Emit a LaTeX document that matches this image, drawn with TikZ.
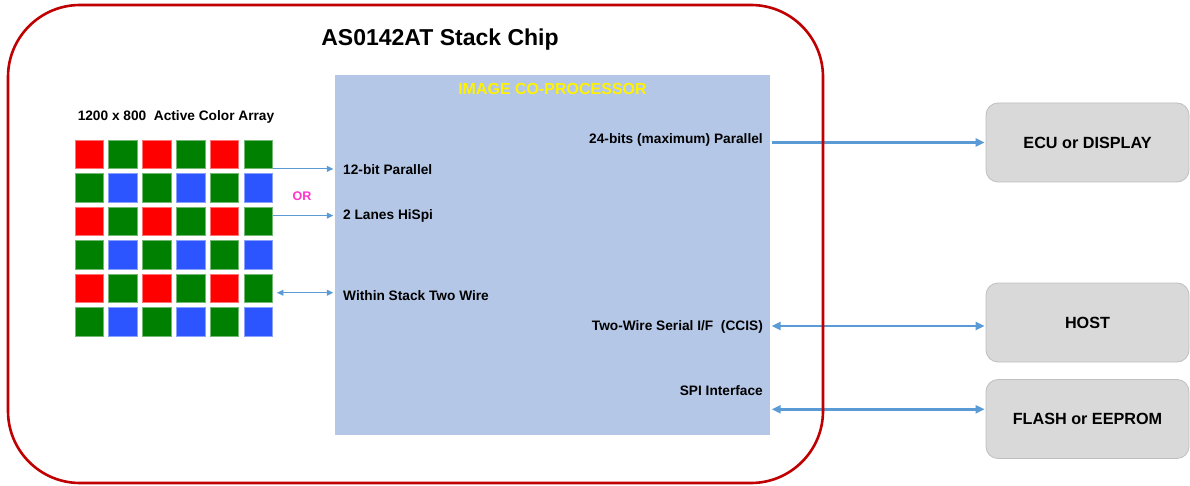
\documentclass[tikz,border=0pt]{standalone}
\usepackage{fontspec}
\setmainfont{Liberation Sans}
\usetikzlibrary{arrows.meta}
\definecolor{chipred}{RGB}{192,0,0}
\definecolor{icpblue}{RGB}{180,199,231}
\definecolor{arrblue}{RGB}{91,155,213}
\definecolor{pxred}{RGB}{255,0,0}
\definecolor{pxgreen}{RGB}{0,128,0}
\definecolor{pxblue}{RGB}{45,85,255}
\definecolor{boxgray}{RGB}{217,217,217}
\definecolor{boxedge}{RGB}{191,191,191}
\definecolor{ormag}{RGB}{255,51,204}
\tikzset{
  sq/.style={minimum size=28.5pt, inner sep=0pt, line width=0.8pt},
  rsq/.style={sq, fill=pxred, draw=pxred!55!white},
  gsq/.style={sq, fill=pxgreen, draw=pxgreen!55!white},
  bsq/.style={sq, fill=pxblue, draw=pxblue!55!white},
  lbl/.style={font=\bfseries\fontsize{13.7}{16}\selectfont, inner sep=0pt},
  ext/.style={draw=boxedge, fill=boxgray, line width=0.8pt, rounded corners=12pt,
    minimum width=203pt, minimum height=79pt, font=\bfseries\fontsize{16.2}{19}\selectfont},
  ltip/.style={Triangle[length=6.5pt,width=6pt]},
  rtip/.style={Triangle[length=9pt,width=8pt]},
  larr/.style={draw=arrblue, line width=1.2pt, -{Triangle[length=6.5pt,width=6pt]}},
  ldarr/.style={draw=arrblue, line width=1.2pt, {Triangle[length=6.5pt,width=6pt]}-{Triangle[length=6.5pt,width=6pt]}},
  rarr/.style={draw=arrblue, line width=2.4pt, -{Triangle[length=9pt,width=8pt]}},
  rdarr/.style={draw=arrblue, line width=2.4pt, {Triangle[length=9pt,width=8pt]}-{Triangle[length=9pt,width=8pt]}}
}
\begin{document}
\begin{tikzpicture}[x=1pt,y=-1pt]
\useasboundingbox (0,0) rectangle (1190,486);
% co-processor
\node[fill=icpblue, minimum width=435pt, minimum height=360pt, inner sep=0pt] (icp) at (552.5,255) {};
\node[font=\bfseries\fontsize{16}{19}\selectfont, text=yellow, inner sep=0pt] (icpt) at (552.5,89) {IMAGE CO-PROCESSOR};
% array label
\node[lbl] (alab) at (176,117) {1200 x 800\ \ Active Color Array};
% pixel grid
\foreach \r in {1,...,6}{
  \foreach \c in {1,...,6}{
    \pgfmathtruncatemacro{\ro}{mod(\r,2)}
    \pgfmathtruncatemacro{\co}{mod(\c,2)}
    \ifnum\ro=1
      \ifnum\co=1 \def\st{rsq}\else \def\st{gsq}\fi
    \else
      \ifnum\co=1 \def\st{gsq}\else \def\st{bsq}\fi
    \fi
    \node[\st] (s-\r-\c) at ({89.25+33.8*(\c-1)},{154.25+33.5*(\r-1)}) {};
  }
}
% left labels
\node[lbl, anchor=west] (l12) at (343,169.5) {12-bit Parallel};
\node[font=\bfseries\fontsize{12.5}{14}\selectfont, text=ormag, inner sep=0pt] (or) at (302,196) {OR};
\node[lbl, anchor=west] (lhs) at (343,216) {2 Lanes HiSpi};
\node[lbl, anchor=west] (ltw) at (343,296) {Within Stack Two Wire};
% right labels
\node[lbl, anchor=east] (r24) at (763,139.5) {24-bits (maximum) Parallel};
\node[lbl, anchor=east] (rtw) at (763,327) {Two-Wire Serial I/F\ \ (CCIS)};
\node[lbl, anchor=east] (rspi) at (763,390.5) {SPI Interface};
% external boxes
\node[ext] (ecu) at (1087.5,142.5) {ECU or DISPLAY};
\node[ext] (host) at (1087.5,322.5) {HOST};
\node[ext] (flash) at (1087.5,419) {FLASH or EEPROM};
% left connectors
\draw[larr] ([xshift=0.5pt]s-1-6.south east) -- ([xshift=-1.5pt]s-1-6.south east -| icp.west);
\draw[larr] ([xshift=0.5pt,yshift=-9pt]s-3-6.north east) -- ([xshift=-1.5pt,yshift=-9pt]s-3-6.north east -| icp.west);
\draw[ldarr] ([xshift=4pt,yshift=-4.5pt]s-5-6.east) -- ([xshift=-1.5pt,yshift=-4.5pt]s-5-6.east -| icp.west);
% right connectors
\draw[rarr] ([xshift=1.5pt]ecu.west -| icp.east) -- ([xshift=-1pt]ecu.west);
\draw[rdarr] ([xshift=1.5pt,yshift=-3.5pt]host.west -| icp.east) -- ([xshift=-1pt,yshift=-3.5pt]host.west);
\draw[rdarr] ([xshift=1.5pt,yshift=9.7pt]flash.west -| icp.east) -- ([xshift=-1pt,yshift=9.7pt]flash.west);
% chip outline
\node[draw=chipred, line width=2.6pt, rounded corners=72pt, minimum width=815pt, minimum height=478pt, inner sep=0pt] (chip) at (415.5,244) {};
\node[font=\bfseries\fontsize{23}{26}\selectfont, inner sep=0pt] (title) at (440,40) {AS0142AT Stack Chip};
\end{tikzpicture}
\end{document}
